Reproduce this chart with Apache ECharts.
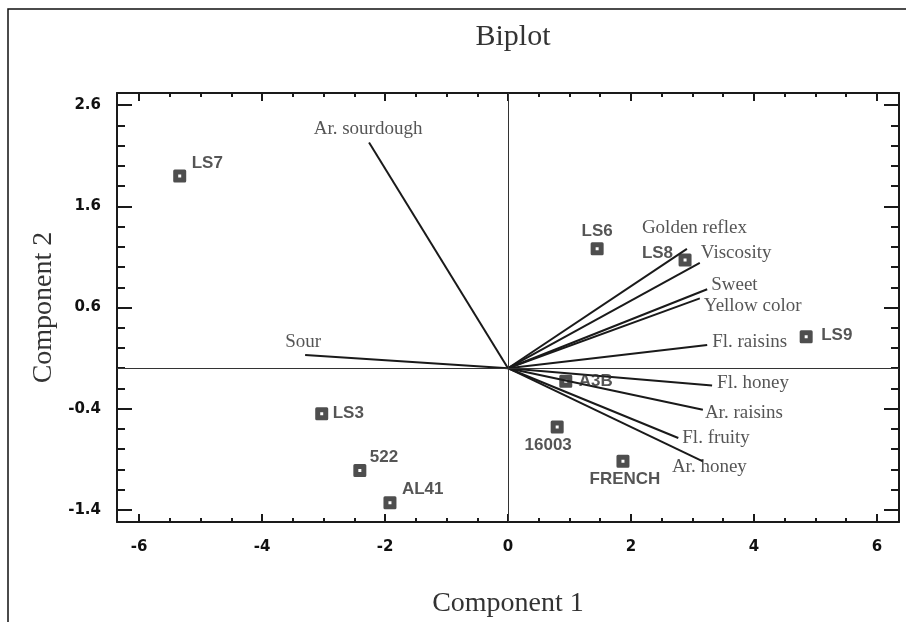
<!DOCTYPE html>
<html><head><meta charset="utf-8">
<script src="https://cdn.jsdelivr.net/npm/echarts@6/dist/echarts.min.js"></script>
<style>html,body{margin:0;padding:0;background:#fff}#c{width:906px;height:622px}</style>
</head><body><div id="c"></div>
<script>
// ---- data ----
const sampleNames = ['LS7','LS6','LS8','LS9','A3B','16003','FRENCH','LS3','522','AL41'];
const sampleX = [-5.34, 1.45, 2.88, 4.85, 0.94, 0.80, 1.87, -3.03, -2.41, -1.92];
const sampleY = [1.90, 1.18, 1.07, 0.31, -0.13, -0.58, -0.92, -0.45, -1.01, -1.33];

const attrNames = ['Ar. sourdough','Sour','Golden reflex','Viscosity','Sweet','Yellow color','Fl. raisins','Fl. honey','Ar. raisins','Fl. fruity','Ar. honey'];
const attrX = [-2.26, -3.30, 2.91, 3.12, 3.24, 3.12, 3.24, 3.32, 3.17, 2.77, 3.17];
const attrY = [2.23, 0.13, 1.18, 1.04, 0.78, 0.69, 0.23, -0.17, -0.41, -0.69, -0.92];

const xMajorTicks = [-6, -4, -2, 0, 2, 4, 6];
const xMinorTicks = [-6, -5.5, -5, -4.5, -4, -3.5, -3, -2.5, -2, -1.5, -1, -0.5, 0, 0.5, 1, 1.5, 2, 2.5, 3, 3.5, 4, 4.5, 5, 5.5, 6];
const yMajorTicks = [-1.4, -0.4, 0.6, 1.6, 2.6];
const yMinorTicks = [-1.4, -1.2, -1.0, -0.8, -0.6, -0.4, -0.2, 0, 0.2, 0.4, 0.6, 0.8, 1.0, 1.2, 1.4, 1.6, 1.8, 2.0, 2.2, 2.4, 2.6];

// ---- label placement (style only) ----
const sampleLabelPlace = {
  'LS7': ['left', [12, -13]], 'LS6': ['center', [0, -18]], 'LS8': ['right', [-12, -7]],
  'LS9': ['left', [15, -2]], 'A3B': ['left', [13, 0]], '16003': ['center', [-9, 18]],
  'FRENCH': ['center', [2, 18]], 'LS3': ['left', [11, 0]], '522': ['left', [10, -13]],
  'AL41': ['left', [12, -13]]
};
const attrLabelPlace = {
  'Ar. sourdough': ['center', [-1, -14]], 'Sour': ['center', [-2, -13]],
  'Golden reflex': ['left', [-45, -21]], 'Viscosity': ['left', [1, -10]],
  'Sweet': ['left', [4, -4]], 'Yellow color': ['left', [4, 8]],
  'Fl. raisins': ['left', [5, -3]], 'Fl. honey': ['left', [5, -2]],
  'Ar. raisins': ['left', [2, 3]], 'Fl. fruity': ['left', [4, 0]],
  'Ar. honey': ['left', [-31, 6]]
};

const X_MIN = -6.36, X_MAX = 6.36, Y_MIN = -1.52, Y_MAX = 2.72;
const AX = '#1a1a1a';
const tickFont = {fontFamily: 'DejaVu Sans', fontWeight: 'bold', fontSize: 15, color: '#111'};
const serif = 'Liberation Serif';

function xAx(pos, major, labels, name) {
  return {
    type: 'value', position: pos, min: X_MIN, max: X_MAX,
    name: name || '', nameLocation: 'middle', nameGap: 68,
    nameTextStyle: {fontFamily: serif, fontSize: 28, color: '#333'},
    axisLine: {show: major, onZero: false, lineStyle: {color: AX, width: 2}},
    axisTick: {show: true, inside: true, length: major ? 8 : 4,
      customValues: major ? xMajorTicks : xMinorTicks, lineStyle: {color: AX, width: 2}},
    axisLabel: labels ? Object.assign({show: true, customValues: xMajorTicks, margin: 18}, tickFont) : {show: false},
    splitLine: {show: false}
  };
}
function yAx(pos, major, labels, name) {
  return {
    type: 'value', position: pos, min: Y_MIN, max: Y_MAX,
    name: name || '', nameLocation: 'middle', nameGap: 58,
    nameTextStyle: {fontFamily: serif, fontSize: 28, color: '#333'},
    axisLine: {show: major, onZero: false, lineStyle: {color: AX, width: 2}},
    axisTick: {show: true, inside: true, length: major ? 15 : 8,
      customValues: major ? yMajorTicks : yMinorTicks, lineStyle: {color: AX, width: 2}},
    axisLabel: labels ? Object.assign({show: true, customValues: yMajorTicks, margin: 16,
      formatter: v => v.toFixed(1)}, tickFont) : {show: false},
    splitLine: {show: false}
  };
}

const chart = echarts.init(document.getElementById('c'), null, {renderer: 'canvas'});
chart.setOption({
  animation: false,
  backgroundColor: '#fff',
  title: {text: 'Biplot', left: 508, top: 17, textAlign: 'center',
    textStyle: {fontFamily: serif, fontSize: 30, fontWeight: 'normal', color: '#333'}},
  grid: {left: 117, right: 7, top: 93, bottom: 100, containLabel: false, outerBoundsMode: 'none'},
  xAxis: [xAx('bottom', true, true, 'Component 1'), xAx('bottom', false, false), xAx('top', true, false), xAx('top', false, false)],
  yAxis: [yAx('left', true, true, 'Component 2'), yAx('left', false, false), yAx('right', true, false), yAx('right', false, false)],
  graphic: [{type: 'rect', shape: {x: 8, y: 9, width: 1000, height: 1000},
    style: {fill: 'none', stroke: '#111', lineWidth: 1.5}, silent: true, z: 100}],
  series: [
    {
      type: 'lines', coordinateSystem: 'cartesian2d', xAxisIndex: 0, yAxisIndex: 0,
      symbol: 'none', lineStyle: {color: '#1a1a1a', width: 2, opacity: 1},
      data: attrNames.map((n, i) => ({name: n, coords: [[0, 0], [attrX[i], attrY[i]]]})),
      z: 3
    },
    {
      type: 'scatter', xAxisIndex: 0, yAxisIndex: 0, symbolSize: 1,
      itemStyle: {color: 'transparent'},
      data: attrNames.map((n, i) => ({
        name: n, value: [attrX[i], attrY[i]],
        label: {show: true, position: 'inside', formatter: n,
          align: attrLabelPlace[n][0], verticalAlign: 'middle', offset: attrLabelPlace[n][1],
          fontFamily: serif, fontSize: 19, color: '#2a2a2a'}
      })),
      markLine: {silent: true, symbol: ['none', 'none'], label: {show: false},
        lineStyle: {color: '#333', width: 1, type: 'solid'},
        data: [{xAxis: 0}, {yAxis: 0}]},
      z: 4
    },
    {
      type: 'scatter', xAxisIndex: 0, yAxisIndex: 0,
      symbol: 'path://M1.5,0H11.5Q13,0 13,1.5V11.5Q13,13 11.5,13H1.5Q0,13 0,11.5V1.5Q0,0 1.5,0Z M5,5V8H8V5Z',
      symbolSize: 13,
      itemStyle: {color: '#222'},
      data: sampleNames.map((n, i) => ({
        name: n, value: [sampleX[i], sampleY[i]],
        label: {show: true, position: 'inside', formatter: n,
          align: sampleLabelPlace[n][0], verticalAlign: 'middle', offset: sampleLabelPlace[n][1],
          fontFamily: 'Liberation Sans', fontWeight: 'bold', fontSize: 17, color: '#2a2a2a'}
      })),
      z: 5
    }
  ]
});
</script></body></html>
